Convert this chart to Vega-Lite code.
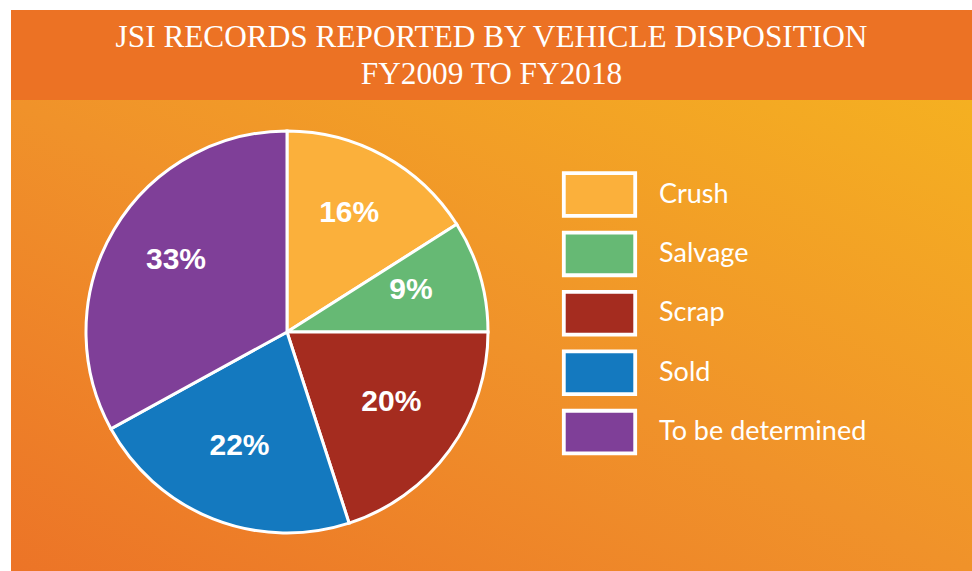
{
  "$schema": "https://vega.github.io/schema/vega-lite/v6.json",
  "background": "white",
  "padding": {"left": 11, "top": 10, "right": 0, "bottom": 0},
  "spacing": 0,
  "config": {"view": {"stroke": null}, "concat": {"spacing": 0}},
  "vconcat": [
    {
      "width": 961,
      "height": 90,
      "view": {"fill": "#EC7224", "stroke": null},
      "data": {"values": [{"t": ["JSI RECORDS REPORTED BY VEHICLE DISPOSITION", "FY2009 TO FY2018"]}]},
      "mark": {"type": "text", "font": "Liberation Serif", "fontSize": 31.3, "color": "white", "lineHeight": 37, "baseline": "middle", "align": "center", "dy": -17},
      "encoding": {"text": {"field": "t"}}
    },
    {
      "width": 961,
      "height": 471,
      "view": {
        "fill": {"gradient": "linear", "x1": 0, "y1": 1, "x2": 1, "y2": 0,
          "stops": [{"offset": 0, "color": "#EC7427"}, {"offset": 0.5, "color": "#F0922A"}, {"offset": 1, "color": "#F5B021"}]},
        "stroke": null
      },
      "data": {"values": [
        {"category": "Crush", "pct": 16, "label": "16%"},
        {"category": "Salvage", "pct": 9, "label": "9%"},
        {"category": "Scrap", "pct": 20, "label": "20%"},
        {"category": "Sold", "pct": 22, "label": "22%"},
        {"category": "To be determined", "pct": 33, "label": "33%"}
      ]},
      "layer": [
        {
          "mark": {"type": "arc", "outerRadius": 201, "x": 276, "y": 232, "stroke": "white", "strokeWidth": 3},
          "encoding": {
            "theta": {"field": "pct", "type": "quantitative", "stack": true},
            "order": {"field": "category", "type": "nominal", "sort": "ascending"},
            "color": {
              "field": "category", "type": "nominal",
              "scale": {"domain": ["Crush", "Salvage", "Scrap", "Sold", "To be determined"],
                        "range": ["#FBB03B", "#66B974", "#A52C1F", "#1479BF", "#7F3F98"]},
              "legend": {
                "orient": "none", "legendX": 565, "legendY": 161, "title": null, "padding": 0,
                "symbolType": "M-1.672,-1H1.672V1H-1.672Z", "symbolSize": 1823,
                "symbolStrokeColor": "white", "symbolStrokeWidth": 3.8, "symbolOpacity": 1,
                "labelFont": "Lato", "labelFontSize": 27, "labelColor": "white",
                "labelOffset": 36, "rowPadding": 0.4, "labelLimit": 400
              }
            }
          }
        },
        {
          "mark": {"type": "text", "radius": 129, "x": 276, "y": 232, "dy": -6, "font": "Liberation Sans", "fontWeight": "bold", "fontSize": 30, "color": "white"},
          "encoding": {
            "theta": {"field": "pct", "type": "quantitative", "stack": true},
            "order": {"field": "category", "type": "nominal", "sort": "ascending"},
            "detail": {"field": "category", "type": "nominal"},
            "text": {"field": "label"}
          }
        }
      ]
    }
  ]
}
